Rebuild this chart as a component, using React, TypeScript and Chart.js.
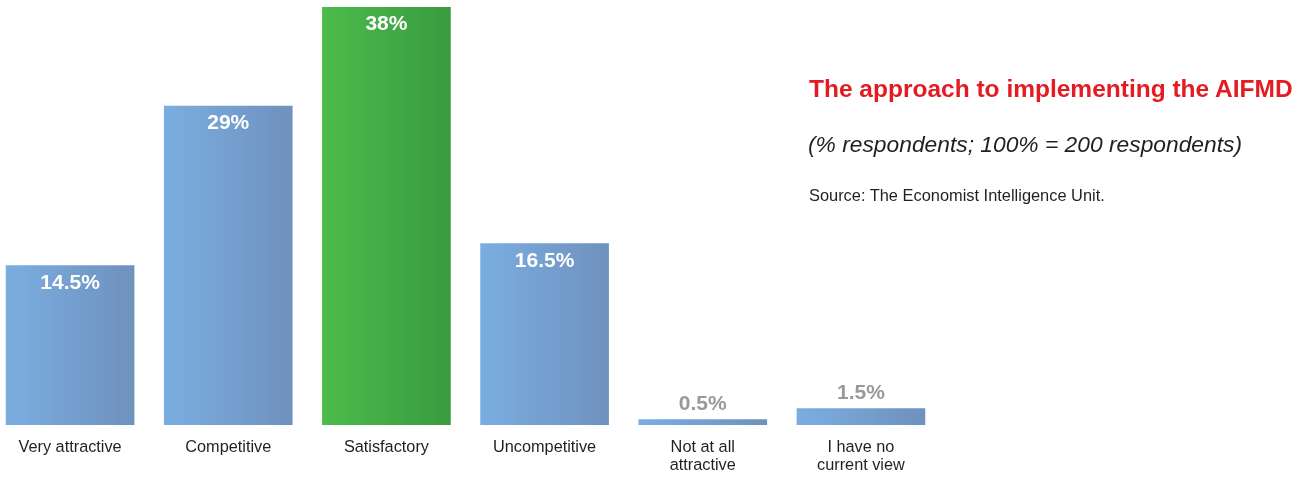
import React, { useEffect, useRef } from "react";
import { Chart, registerables } from "chart.js";

Chart.register(...registerables);

const categories: (string | string[])[] = [
  "Very attractive",
  "Competitive",
  "Satisfactory",
  "Uncompetitive",
  ["Not at all", "attractive"],
  ["I have no", "current view"],
];
const values: number[] = [14.5, 29, 38, 16.5, 0.5, 1.5];
const highlightIndex = 2;
const yMax = 38;

const titleText = "The approach to implementing the AIFMD";
const subtitleText = "(% respondents; 100% = 200 respondents)";
const sourceText = "Source: The Economist Intelligence Unit.";

const BLUE_L = "#7aaee0";
const BLUE_R = "#6f91be";
const GREEN_L = "#4cbc4b";
const GREEN_R = "#3a9b40";

const valueLabelPlugin = {
  id: "valueLabels",
  afterDatasetsDraw(chart: any) {
    const ctx = chart.ctx;
    const meta = chart.getDatasetMeta(0);
    ctx.save();
    ctx.textAlign = "center";
    ctx.textBaseline = "middle";
    ctx.font = "bold 21px 'Liberation Sans', Arial, sans-serif";
    meta.data.forEach((bar: any, i: number) => {
      const v = values[i];
      const txt = `${v}%`;
      if (v >= 5) {
        ctx.fillStyle = "#ffffff";
        ctx.fillText(txt, bar.x, bar.y + 17.5);
      } else {
        ctx.fillStyle = "#999999";
        ctx.fillText(txt, bar.x, bar.y - 15);
      }
    });
    ctx.restore();
  },
};

export default function App() {
  const ref = useRef<HTMLCanvasElement | null>(null);

  useEffect(() => {
    document.body.style.margin = "0";
    const canvas = ref.current;
    if (!canvas) return;
    const chart = new Chart(canvas, {
      type: "bar",
      data: {
        labels: categories as any,
        datasets: [
          {
            data: values,
            barThickness: 128,
            borderWidth: 0,
            backgroundColor: (c: any) => {
              const ch = c.chart;
              const isHi = c.dataIndex === highlightIndex;
              if (!ch.chartArea || !ch.scales.x) return isHi ? GREEN_L : BLUE_L;
              const x = ch.scales.x.getPixelForValue(c.dataIndex);
              const g = ch.ctx.createLinearGradient(x - 64, 0, x + 64, 0);
              g.addColorStop(0, isHi ? GREEN_L : BLUE_L);
              g.addColorStop(1, isHi ? GREEN_R : BLUE_R);
              return g;
            },
          },
        ],
      },
      options: {
        responsive: false,
        animation: false,
        devicePixelRatio: 1,
        layout: { padding: { top: 7, bottom: 1, left: 0, right: 0 } },
        plugins: {
          legend: { display: false },
          tooltip: { enabled: false },
          title: { display: false },
        },
        scales: {
          x: {
            offset: true,
            grid: { display: false, drawTicks: false, tickLength: 0 },
            border: { display: false },
            ticks: {
              autoSkip: false,
              maxRotation: 0,
              minRotation: 0,
              padding: 14,
              color: "#231f20",
              font: { family: "'Liberation Sans', Arial, sans-serif", size: 16.3, lineHeight: "18px" },
            },
          },
          y: {
            display: false,
            min: 0,
            max: yMax,
          },
        },
      },
      plugins: [valueLabelPlugin],
    } as any);
    return () => chart.destroy();
  }, []);

  const textBase: React.CSSProperties = {
    position: "absolute",
    whiteSpace: "nowrap",
    fontFamily: "'Liberation Sans', Arial, sans-serif",
  };

  return (
    <div style={{ position: "relative", width: 1300, height: 490, overflow: "hidden", background: "#fff" }}>
      <canvas
        ref={ref}
        width={949}
        height={490}
        style={{ position: "absolute", left: -9, top: 0, width: 949, height: 490 }}
      />
      <div
        style={{
          ...textBase,
          left: 809,
          top: 77,
          fontSize: 24.5,
          lineHeight: "24.5px",
          fontWeight: "bold",
          color: "#e31b23",
        }}
      >
        {titleText}
      </div>
      <div
        style={{
          ...textBase,
          left: 808,
          top: 133,
          fontSize: 22.8,
          lineHeight: "22.8px",
          fontStyle: "italic",
          color: "#231f20",
        }}
      >
        {subtitleText}
      </div>
      <div
        style={{
          ...textBase,
          left: 809,
          top: 186.5,
          fontSize: 16.4,
          lineHeight: "16.4px",
          color: "#231f20",
        }}
      >
        {sourceText}
      </div>
    </div>
  );
}
